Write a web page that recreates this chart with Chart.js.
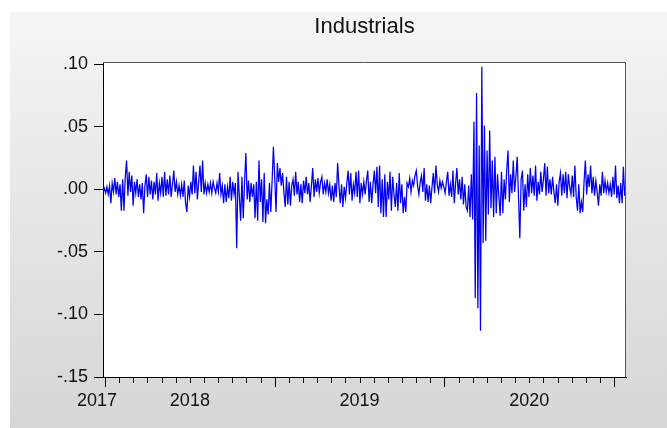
<!DOCTYPE html>
<html>
<head>
<meta charset="utf-8">
<script src="https://cdn.jsdelivr.net/npm/chart.js@4.4.1/dist/chart.umd.min.js"></script>
<style>
  html, body { margin: 0; padding: 0; background: #fff; }
  canvas { display: block; }
</style>
</head>
<body>
<canvas id="c" width="667" height="428"></canvas>
<script>
// Industrials: daily returns, one value per observation (evenly spaced trading days)
const returns = [
  -.002,.001,-.003,.002,-.004,.003,-.011,.005,-.002,.009,-.004,.006,-.006,.004,-.017,.008,-.017,.010,.023,-.005,
  .014,-.002,.011,-.013,.006,-.003,.008,-.006,.004,-.008,.005,-.019,.003,.012,-.006,.010,-.004,.007,-.008,.006,
  -.004,.013,-.009,.005,-.003,.010,-.006,.014,-.005,.008,-.004,.011,-.006,.004,.015,-.002,.006,-.004,.003,-.005,
  .004,-.006,.007,-.011,-.018,.003,-.006,.006,-.004,.019,-.003,.014,-.008,.006,.019,-.002,.023,-.004,.005,-.003,
  .004,-.002,.005,-.003,.006,.001,-.003,.005,-.002,.013,-.004,.003,-.011,.004,-.010,.002,-.007,.010,-.009,.006,
  -.004,.005,-.047,.014,-.005,-.025,.010,-.023,.006,.029,-.008,.007,-.010,.005,-.006,.004,-.023,.006,-.025,.023,
  -.010,.008,-.026,.013,-.027,-.008,-.020,.005,-.018,.006,.034,.010,-.018,.021,.006,.017,.003,.013,-.002,-.014,
  .010,-.012,.006,-.013,.003,.008,-.005,.014,-.004,.006,-.010,.004,-.011,.007,-.003,.010,-.004,.005,-.010,.003,
  .017,-.006,.008,-.002,.009,-.003,.006,.010,-.004,.005,-.002,.008,-.003,.004,-.009,.003,-.010,.005,-.006,.021,
  .003,-.011,.004,-.014,.002,-.007,.005,.015,-.004,.013,-.009,.004,-.003,.014,-.006,.015,-.011,.005,-.004,.006,
  -.004,.007,.015,-.010,.006,-.011,.004,.015,-.003,.018,-.014,.019,-.019,.008,-.022,.012,-.022,.006,-.008,.014,
  -.017,.010,-.004,-.014,.005,-.017,.013,-.011,.004,-.019,-.006,-.018,.005,.002,.009,-.002,.007,.003,.011,.015,
  .003,-.004,.006,.011,-.002,.017,-.009,.004,-.010,.003,-.011,.002,.013,-.003,.019,.004,-.002,.007,.001,.006,
  .002,-.003,.006,.014,-.005,.004,-.006,.015,-.011,.005,.017,-.004,.008,-.008,.010,-.012,.004,-.014,-.017,.003,
  -.022,.012,-.024,.054,-.087,.077,-.095,.035,-.113,.098,-.043,.051,-.041,.031,-.020,.047,-.015,.023,-.022,.026,
  -.019,.012,-.006,-.021,.014,-.019,.008,-.008,.015,.031,-.010,.012,-.003,.023,-.002,.010,.026,-.006,-.039,.008,
  .015,-.017,.004,-.014,.012,-.006,.017,-.003,.011,-.005,.019,-.009,.006,-.004,.014,-.002,.008,.021,-.005,.018,
  -.003,.008,-.004,.010,-.002,-.011,.004,-.013,.006,.013,-.005,.012,-.003,.014,-.007,.012,.002,-.004,.011,-.006,
  .019,-.006,-.017,.004,-.019,-.010,-.018,.006,.023,-.004,.012,.002,.019,-.003,.010,-.005,.007,-.002,-.013,.004,
  -.005,.014,-.003,.007,-.002,.005,-.003,.004,-.006,.010,-.004,.019,-.007,.003,-.011,.005,-.011,.018,-.005,.002
];

// Sample span in fractional years (first and last observation)
const sampleStart = 2017.988;
const sampleEnd = 2021.07;

// Axis tick labels
const yearLabels = ['2017', '2018', '2019', '2020'];
const yTickValues = [-0.15, -0.10, -0.05, 0, 0.05, 0.10];

// Year labels sit in the middle of each calendar year (the first one by the left edge)
const yearLabelAt = [2017.953, 2018.5, 2019.5, 2020.5];
const yearStarts = [2018, 2019, 2020, 2021];

const step = (sampleEnd - sampleStart) / (returns.length - 1);
const points = returns.map((v, i) => ({ x: sampleStart + i * step, y: v }));

const FONT = "'Liberation Sans', Arial, Helvetica, sans-serif";

function fmtY(v) {
  if (Math.abs(v) < 1e-9) return '.00';
  const s = Math.abs(v).toFixed(2).replace(/^0/, '');
  return (v < 0 ? '-' : '') + s;
}

// Gray panel, white plot box, frame and month/year tick marks
const panel = {
  id: 'panel',
  beforeDraw(chart) {
    const { ctx, width, height, chartArea: a } = chart;
    ctx.save();
    ctx.fillStyle = '#ffffff';
    ctx.fillRect(0, 0, width, height);
    const g = ctx.createLinearGradient(0, 12, 0, height);
    g.addColorStop(0, '#f5f5f5');
    g.addColorStop(1, '#d6d6d6');
    ctx.fillStyle = g;
    ctx.fillRect(10, 12, width - 10, height - 12);
    ctx.fillStyle = '#ffffff';
    ctx.fillRect(a.left, a.top, a.right - a.left, a.bottom - a.top);
    ctx.restore();
  },
  afterDraw(chart) {
    const { ctx, chartArea: a, scales } = chart;
    const x = scales.x;
    ctx.save();
    ctx.lineWidth = 1;
    ctx.strokeStyle = '#555555';
    ctx.beginPath();
    ctx.moveTo(a.left, a.top + 0.5);
    ctx.lineTo(a.right - 0.5, a.top + 0.5);
    ctx.lineTo(a.right - 0.5, a.bottom);
    ctx.stroke();

    ctx.strokeStyle = '#000000';
    ctx.beginPath();
    const y0 = a.bottom;
    yearStarts.forEach((yr, k) => {
      const px = Math.round(x.getPixelForValue(yr)) + 0.5;
      if (px >= a.left - 1 && px <= a.right + 1) {
        ctx.moveTo(px, y0);
        ctx.lineTo(px, y0 + 10);
      }
      if (k < yearStarts.length - 1) {
        for (let m = 1; m < 12; m++) {
          const v = yr + m / 12;
          if (v > sampleEnd) break;
          const pm = Math.round(x.getPixelForValue(v)) + 0.5;
          ctx.moveTo(pm, y0);
          ctx.lineTo(pm, y0 + 6);
        }
      }
    });
    ctx.stroke();
    ctx.restore();
  }
};

new Chart(document.getElementById('c'), {
  type: 'line',
  data: {
    datasets: [{
      data: points,
      borderColor: '#0000ee',
      borderWidth: 1.25,
      pointRadius: 0,
      tension: 0,
      fill: false
    }]
  },
  options: {
    responsive: false,
    animation: false,
    devicePixelRatio: 1,
    layout: { padding: { left: 0, right: 41, top: 0, bottom: 0 } },
    plugins: {
      legend: { display: false },
      tooltip: { enabled: false },
      title: {
        display: true,
        text: 'Industrials',
        fullSize: false,
        color: '#111111',
        font: { family: FONT, size: 22, weight: 'normal' },
        padding: { top: 14, bottom: 21.6 }
      }
    },
    scales: {
      x: {
        type: 'linear',
        min: sampleStart,
        max: sampleEnd,
        afterBuildTicks(scale) {
          scale.ticks = yearLabelAt.map(v => ({ value: v }));
        },
        afterFit(scale) { scale.height = 51; },
        grid: {
          drawOnChartArea: false,
          drawTicks: true,
          tickLength: 10,
          tickColor: 'rgba(0,0,0,0)'
        },
        border: { display: true, color: '#000000', width: 1 },
        ticks: {
          autoSkip: false,
          maxRotation: 0,
          minRotation: 0,
          padding: 3,
          color: '#111111',
          font: { family: FONT, size: 18 },
          callback: (v, i) => yearLabels[i]
        }
      },
      y: {
        type: 'linear',
        min: -0.15,
        max: 0.1018,
        afterBuildTicks(scale) {
          scale.ticks = yTickValues.map(v => ({ value: v }));
        },
        afterFit(scale) { scale.width = 103; },
        grid: {
          drawOnChartArea: false,
          drawTicks: true,
          tickLength: 9,
          tickColor: '#000000'
        },
        border: { display: true, color: '#000000', width: 1 },
        ticks: {
          padding: 6,
          color: '#111111',
          font: { family: FONT, size: 18 },
          callback: v => fmtY(v)
        }
      }
    }
  },
  plugins: [panel]
});
</script>
</body>
</html>
